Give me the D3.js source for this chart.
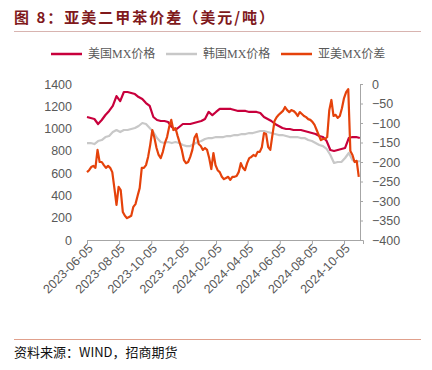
<!DOCTYPE html>
<html>
<head>
<meta charset="utf-8">
<script src="https://cdn.jsdelivr.net/npm/d3@7"></script>
<style>
  body { margin: 0; background: #fff; }
  svg { display: block; }
</style>
</head>
<body>
<div id="chart"></div>
<script>
// data, weekly for the two prices, every 4 days for the spread
var startDate = "2023-06-05";
var endDate = "2024-11-10";
var tickLabels = ["2023-06-05", "2023-08-05", "2023-10-05", "2023-12-05", "2024-02-05",
  "2024-04-05", "2024-06-05", "2024-08-05", "2024-10-05"];
var leftTicks = [0, 200, 400, 600, 800, 1000, 1200, 1400];
var rightTicks = [-400, -350, -300, -250, -200, -150, -100, -50, 0];
var seriesNames = ["美国MX价格", "韩国MX价格", "亚美MX价差"];

var usPrice = [1104, 1095, 1086, 1041, 1077, 1122, 1158, 1203, 1292, 1247,
  1328, 1328, 1319, 1310, 1283, 1265, 1229, 1203, 1104, 1077,
  1068, 1068, 1059, 1014, 987, 1014, 1041, 1041, 1041, 1050,
  1059, 1068, 1086, 1150, 1120, 1149, 1176, 1176, 1176, 1176,
  1167, 1158, 1158, 1158, 1149, 1149, 1149, 1140, 1104, 1086,
  1068, 1041, 1023, 1005, 996, 996, 987, 987, 987, 978,
  969, 960, 951, 933, 924, 888, 808, 799, 808, 817,
  826, 915, 924, 924, 915];

var krPrice = [870, 870, 861, 888, 897, 924, 933, 969, 987, 969,
  987, 987, 996, 1005, 1023, 1050, 1041, 1005, 969, 915,
  879, 870, 879, 870, 879, 870, 852, 843, 843, 861,
  879, 888, 906, 915, 915, 924, 924, 924, 933, 933,
  942, 942, 951, 951, 960, 960, 969, 978, 978, 969,
  960, 951, 942, 942, 933, 924, 924, 924, 915, 915,
  897, 888, 870, 852, 843, 817, 763, 691, 700, 700,
  736, 781, 718, 700, 709];

var spread = [-226, -221, -213, -210, -215, -169, -200, -200, -208, -215,
  -210, -215, -226, -267, -310, -264, -272, -328, -338, -344,
  -341, -338, -315, -308, -287, -267, -215, -215, -208, -187,
  -156, -118, -138, -164, -182, -190, -174, -151, -136, -110,
  -92, -118, -113, -133, -151, -169, -195, -203, -200, -187,
  -169, -138, -128, -154, -159, -169, -164, -169, -190, -218,
  -177, -208, -221, -226, -238, -244, -241, -238, -246, -238,
  -238, -236, -226, -203, -215, -221, -203, -190, -187, -182,
  -185, -174, -174, -162, -126, -128, -162, -169, -131, -95,
  -85, -79, -74, -69, -59, -67, -72, -67, -69, -74,
  -82, -72, -77, -82, -85, -90, -92, -97, -105, -118,
  -131, -144, -141, -141, -136, -67, -41, -82, -79, -87,
  -82, -62, -36, -21, -13, -172, -182, -200, -197, -238];

var W = 432, H = 370;
var parse = d3.timeParse("%Y-%m-%d");
var t0 = parse(startDate);

var usData = usPrice.map(function (v, i) { return { date: d3.timeDay.offset(t0, i * 7), value: v }; });
var krData = krPrice.map(function (v, i) { return { date: d3.timeDay.offset(t0, i * 7), value: v }; });
var spreadData = spread.map(function (v, i) { return { date: d3.timeDay.offset(t0, i * 4), value: v }; });

var svg = d3.select("#chart").append("svg")
  .attr("width", W)
  .attr("height", H);

var cjk = "'Noto Sans CJK SC', sans-serif";
var num = "'Liberation Sans', Arial, sans-serif";

// title + rules
svg.append("text")
  .attr("x", 14)
  .attr("y", 23)
  .text("图 8：亚美二甲苯价差（美元/吨）")
  .attr("font-family", cjk)
  .attr("font-size", "15px")
  .attr("font-weight", "bold")
  .attr("letter-spacing", "2px")
  .attr("fill", "#80191c");

svg.append("line")
  .attr("x1", 14).attr("x2", 421)
  .attr("y1", 31.5).attr("y2", 31.5)
  .attr("stroke", "#d8b4b0")
  .attr("stroke-width", 1);

svg.append("line")
  .attr("x1", 14).attr("x2", 421)
  .attr("y1", 339.5).attr("y2", 339.5)
  .attr("stroke", "#e0a08c")
  .attr("stroke-width", 1);

svg.append("text")
  .attr("x", 14)
  .attr("y", 357)
  .text("资料来源：WIND，招商期货")
  .attr("font-family", cjk)
  .attr("font-size", "13px")
  .attr("fill", "#111");

// scales
var x = d3.scaleTime()
  .domain([t0, parse(endDate)])
  .range([87, 363]);
var yL = d3.scaleLinear().domain([0, 1400]).range([240, 84]);
var yR = d3.scaleLinear().domain([-400, 0]).range([240, 84]);

var axisColor = "#a6a6a6";
var labelColor = "#595959";

// bottom axis
var xAxis = d3.axisBottom(x)
  .tickValues(tickLabels.map(parse))
  .tickFormat(d3.timeFormat("%Y-%m-%d"))
  .tickSizeInner(4)
  .tickSizeOuter(4);
var gx = svg.append("g")
  .attr("transform", "translate(0,240)")
  .call(xAxis);
gx.select(".domain").attr("stroke", axisColor);
gx.selectAll(".tick line").attr("stroke", axisColor);
gx.selectAll(".tick text")
  .attr("font-family", num)
  .attr("font-size", "12.5px")
  .attr("fill", labelColor)
  .attr("text-anchor", "end")
  .attr("transform", "translate(3,6) rotate(-45)")
  .attr("x", 0)
  .attr("y", 0)
  .attr("dy", "0.35em");

// left axis, labels only
var gl = svg.append("g")
  .attr("transform", "translate(72,0)")
  .call(d3.axisLeft(yL).tickValues(leftTicks).tickFormat(d3.format("d")).tickSize(0).tickPadding(0));
gl.select(".domain").remove();
gl.selectAll(".tick text")
  .attr("font-family", num)
  .attr("font-size", "12.5px")
  .attr("fill", labelColor);

// right axis
var gr = svg.append("g")
  .attr("transform", "translate(360,0)")
  .call(d3.axisRight(yR).tickValues(rightTicks).tickFormat(d3.format("d")).tickSizeInner(3).tickSizeOuter(0).tickPadding(9));
gr.select(".domain").attr("stroke", axisColor);
gr.selectAll(".tick line").attr("stroke", axisColor);
gr.selectAll(".tick text")
  .attr("font-family", num)
  .attr("font-size", "12.5px")
  .attr("fill", labelColor);

// lines
var colors = ["#c8003c", "#c8c8c8", "#e5420b"];

var lineL = d3.line()
  .x(function (d) { return x(d.date); })
  .y(function (d) { return yL(d.value); });
var lineR = d3.line()
  .x(function (d) { return x(d.date); })
  .y(function (d) { return yR(d.value); });

svg.append("path")
  .datum(krData)
  .attr("d", lineL)
  .attr("fill", "none")
  .attr("stroke", colors[1])
  .attr("stroke-width", 2.2)
  .attr("stroke-linejoin", "round");

svg.append("path")
  .datum(usData)
  .attr("d", lineL)
  .attr("fill", "none")
  .attr("stroke", colors[0])
  .attr("stroke-width", 2.2)
  .attr("stroke-linejoin", "round");

svg.append("path")
  .datum(spreadData)
  .attr("d", lineR)
  .attr("fill", "none")
  .attr("stroke", colors[2])
  .attr("stroke-width", 2.2)
  .attr("stroke-linejoin", "round");

// legend
var legendX = [51, 166, 281];
var legend = svg.selectAll("g.legend")
  .data(seriesNames)
  .enter()
  .append("g")
  .attr("class", "legend")
  .attr("transform", function (d, i) { return "translate(" + legendX[i] + ",54)"; });

legend.append("line")
  .attr("x1", 0).attr("x2", 31)
  .attr("y1", 0).attr("y2", 0)
  .attr("stroke", function (d, i) { return colors[i]; })
  .attr("stroke-width", 2.5);

legend.append("text")
  .attr("x", 37)
  .attr("y", 0)
  .attr("dy", "0.35em")
  .text(function (d) { return d; })
  .attr("font-family", "'Liberation Serif', 'Noto Sans CJK SC', serif")
  .attr("font-size", "12px")
  .attr("fill", labelColor);
</script>
</body>
</html>
